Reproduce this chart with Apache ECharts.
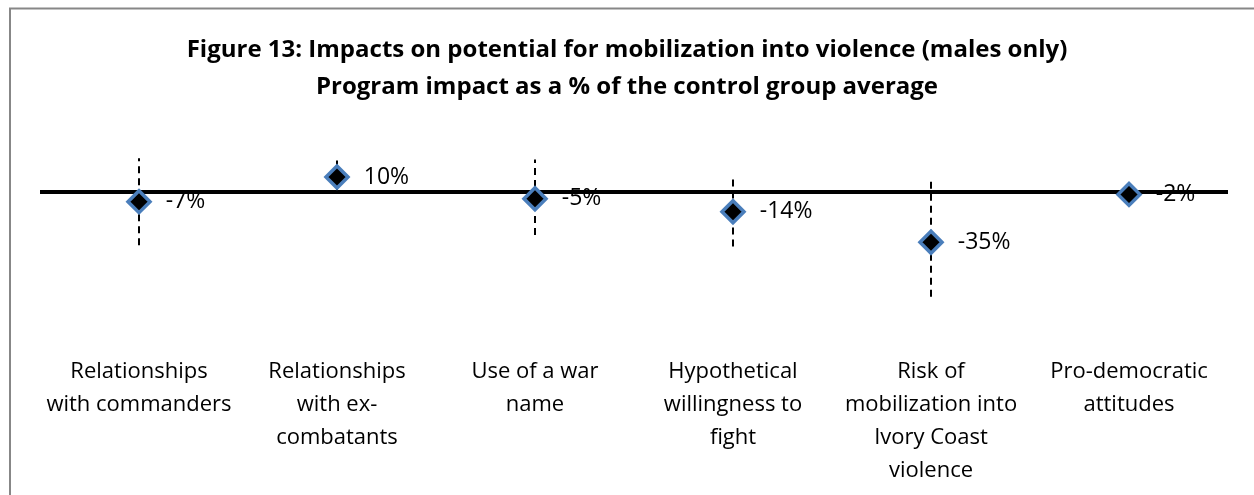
<!DOCTYPE html>
<html>
<head>
<meta charset="utf-8">
<script src="https://cdn.jsdelivr.net/npm/echarts@6/dist/echarts.min.js"></script>
<style>
  html, body { margin: 0; padding: 0; background: #fff; }
  #chart { width: 1254px; height: 495px; }
</style>
</head>
<body>
<div id="chart"></div>
<script>
// data
const categories = [
  "Relationships\nwith commanders",
  "Relationships\nwith ex-\ncombatants",
  "Use of a war\nname",
  "Hypothetical\nwillingness to\nfight",
  "Risk of\nmobilization into\nIvory Coast\nviolence",
  "Pro-democratic\nattitudes"
];
const impact = [-7, 10, -5, -14, -35, -2];
// dashed interval ends (approx, % of control mean)
const ciLow = [-37, 0, -30, -38, -72.5, null];
const ciHigh = [23, 22, 22, 10, 7, null];

const chart = echarts.init(document.getElementById("chart"));
const font = "Open Sans";

const option = {
  animation: false,
  title: [
    {
      text: "Figure 13: Impacts on potential for mobilization into violence (males only)",
      left: "center",
      top: 33,
      textStyle: { fontFamily: font, fontSize: 24, fontWeight: "bold", color: "#000" }
    },
    {
      text: "Program impact as a % of the control group average",
      left: "center",
      top: 70,
      textStyle: { fontFamily: font, fontSize: 24, fontWeight: "bold", color: "#000" }
    }
  ],
  graphic: [
    {
      type: "rect",
      shape: { x: 10, y: 8.5, width: 1300, height: 600 },
      style: { fill: null, stroke: "#878787", lineWidth: 2 },
      silent: true
    }
  ],
  grid: { left: 40, right: 26, top: 133.5, bottom: 158.5 },
  xAxis: {
    type: "category",
    data: categories,
    position: "bottom",
    axisLine: { show: false, onZero: false },
    axisTick: { show: false },
    axisLabel: {
      interval: 0,
      margin: 19,
      fontFamily: font,
      fontSize: 22,
      lineHeight: 33,
      color: "#000"
    }
  },
  yAxis: {
    type: "value",
    min: -100,
    max: 40,
    show: false,
    splitLine: { show: false }
  },
  series: [
    {
      type: "custom",
      z: 2,
      silent: true,
      data: categories.map((c, i) => [i, ciLow[i], ciHigh[i]]),
      renderItem: function (params, api) {
        if (api.value(1) == null || isNaN(api.value(1))) return;
        const lo = api.coord([api.value(0), api.value(1)]);
        const hi = api.coord([api.value(0), api.value(2)]);
        return {
          type: "line",
          shape: { x1: lo[0], y1: lo[1], x2: hi[0], y2: hi[1] },
          style: { stroke: "#000", lineWidth: 2, lineDash: [7, 5] }
        };
      }
    },
    {
      type: "scatter",
      z: 5,
      data: impact,
      symbol: "diamond",
      symbolSize: 22,
      itemStyle: { color: "#000", borderColor: "#4a7ebb", borderWidth: 3.5, opacity: 1 },
      label: {
        show: true,
        position: "right",
        distance: 14,
        fontFamily: font,
        fontSize: 23,
        color: "#000",
        formatter: (p) => p.value + "%"
      },
      markLine: {
        silent: true,
        symbol: "none",
        label: { show: false },
        lineStyle: { color: "#000", width: 4, type: "solid" },
        data: [{ yAxis: 0 }]
      }
    }
  ]
};

chart.setOption(option);
</script>
</body>
</html>
